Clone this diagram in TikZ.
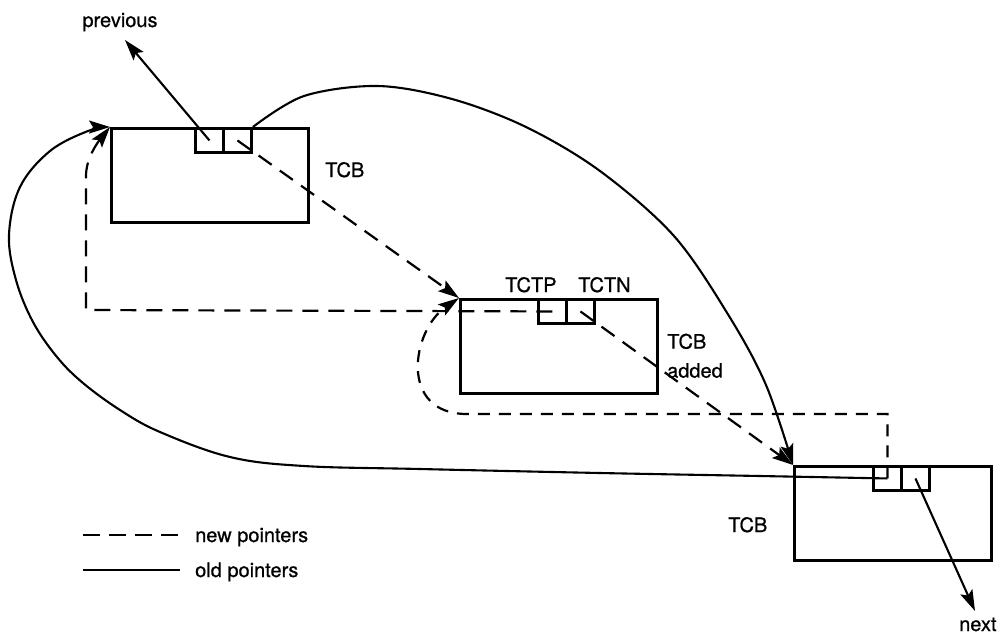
\documentclass[tikz,border=0pt]{standalone}
\usepackage{fontspec}
\setmainfont{TeX Gyre Heros}
\newfontfamily\lblfont{TeX Gyre Heros}[FakeBold=0.7]
\usetikzlibrary{arrows.meta,calc}
\begin{document}
\begin{tikzpicture}[x=1pt,y=-1pt,
  tcb/.style={draw, line width=3.3pt, rectangle, anchor=north west, inner sep=0pt, minimum width=197pt, minimum height=94pt},
  cell/.style={draw, line width=2.9pt, rectangle, anchor=north west, inner sep=0pt, minimum width=28pt, minimum height=24pt},
  lbl/.style={font=\lblfont\fontsize{20}{29}\selectfont, inner sep=0pt},
  tip/.style={-{Stealth[length=21pt,width=13pt,inset=4pt]}},
  old/.style={line width=2.1pt, tip},
  new/.style={line width=2.2pt, dash pattern=on 16pt off 10pt, tip},
  newloop/.style={line width=2.2pt, dash pattern=on 12pt off 9pt, tip},
  legnew/.style={line width=2.2pt, dash pattern=on 17pt off 9pt},
  legold/.style={line width=2.1pt},
]
\useasboundingbox (0,0) rectangle (1006,638);
\fill[white] (0,0) rectangle (1006,638);

% TCB boxes
\node[tcb] (b1) at (110,127) {};
\node[tcb] (b2) at (459,298) {};
\node[tcb] (b3) at (793,465) {};
% pointer cells
\node[cell] (c1a) at (194,127) {};
\node[cell] (c1b) at (222,127) {};
\node[cell] (c2a) at (537,298) {};
\node[cell] (c2b) at (565,298) {};
\node[cell] (c3a) at (872,465) {};
\node[cell] (c3b) at (900,465) {};

% labels
\node[lbl, anchor=base] (prev) at (120,27) {previous};
\node[lbl, anchor=base west] (t1) at (325,177) {TCB};
\node[lbl, anchor=base west] (tctp) at (505,292) {TCTP};
\node[lbl, anchor=base west] (tctn) at (578,292) {TCTN};
\node[lbl, anchor=north west, align=left] (t2) at (667,333.5) {TCB\\added};
\node[lbl, anchor=base west] (t3) at (728,532) {TCB};
\node[lbl, anchor=base west] (nxt) at (959,631) {next};

% free ends and waypoints
\coordinate (prevtip) at (125,40);
\coordinate (nexttip) at (975,611);
\coordinate (lcorner) at (86,310);
\coordinate (lup) at (86,176);
\coordinate (loopstart) at (467,414);

% old pointers
\draw[old] (c1a.center) -- (prevtip);
\draw[old] (c3b.center) -- (nexttip);
\draw[old] plot[smooth, tension=0.55] coordinates {(c1b.north east) (304,96) (378,86) (452,99) (526,127) (600,171) (674,236) (729,316) (766,385) (b3.north west)};
\draw[old] plot[smooth, tension=0.6] coordinates {(c3a.center) (760,476) (600,473) (420,469) (304,466) (230,457) (160,432) (120,410) (83,383) (57,357) (33,322) (16,280) (9,235) (20,187) (50,151) (88,131) (b1.north west)};

% new pointers
\draw[new] (c1b.center) -- (b2.north west);
\draw[new] (c2b.center) -- (b3.north west);
\draw[new] (c2a.center) -- (lcorner) -- (lup) .. controls (86,158) and (98,142) .. (b1.north west);
\draw[newloop] (c3a.center) |- (loopstart) .. controls (398,414) and (412,330) .. (b2.north west);

% legend
\coordinate (la) at (83,535);
\coordinate (lb) at (178,535);
\coordinate (lc) at (83,570);
\coordinate (ld) at (180,570);
\draw[legnew] (la) -- (lb);
\draw[legold] (lc) -- (ld);
\node[lbl, anchor=base west] (lnew) at (195,542) {new pointers};
\node[lbl, anchor=base west] (lold) at (195,577) {old pointers};
\end{tikzpicture}
\end{document}
